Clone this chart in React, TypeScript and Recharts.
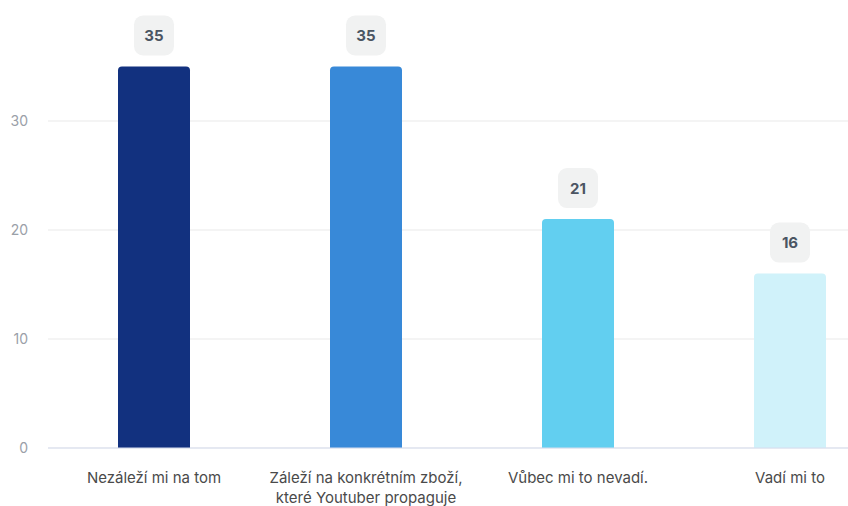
import React from 'react';
import { BarChart, Bar, XAxis, YAxis, CartesianGrid, Cell, LabelList } from 'recharts';

const categories = [
  'Nezáleží mi na tom',
  'Záleží na konkrétním zboží,\nkteré Youtuber propaguje',
  'Vůbec mi to nevadí.',
  'Vadí mi to',
];
const responses = [35, 35, 21, 16];
const yTicks = [0, 10, 20, 30];
const yMax = 40;

const barColors = ['#12317f', '#3889d8', '#62cff0', '#d0f2fa'];
const font = 'Inter, "Noto Sans", sans-serif';

const data = categories.map((name, i) => ({ name, value: responses[i] }));

const CategoryTick = (props: any) => {
  const { x, y, payload } = props;
  const lines = String(payload.value).split('\n');
  return (
    <text
      x={x}
      y={y}
      textAnchor="middle"
      style={{ fontFamily: font, fontSize: 15, fill: '#4a4a4a' }}
    >
      {lines.map((line, i) => (
        <tspan key={i} x={x} dy={i === 0 ? 0 : 20}>
          {line}
        </tspan>
      ))}
    </text>
  );
};

const ValueBadge = (props: any) => {
  const { x, y, width, value } = props;
  const cx = x + width / 2;
  return (
    <g>
      <rect x={cx - 20} y={y - 51} width={40} height={40} rx={9} fill="#f1f2f2" />
      <text
        x={cx}
        y={y - 31}
        textAnchor="middle"
        dominantBaseline="central"
        style={{ fontFamily: font, fontSize: 15, fontWeight: 700, fill: '#4b5563' }}
      >
        {value}
      </text>
    </g>
  );
};

// grid only at the labelled ticks, no line at the top of the plot
const gridRows = ({ yAxis, offset }: any) =>
  yTicks.map((t) => {
    const s = yAxis && yAxis.scale;
    if (typeof s === 'function') return s(t);
    if (s && typeof s.map === 'function') return s.map(t);
    return offset.top + offset.height * (1 - t / yMax);
  });

export default function App() {
  return (
    <div style={{ position: 'absolute', left: 0, top: 0, width: 848, height: 506, overflow: 'hidden', background: '#fff' }}>
      <BarChart
        width={896}
        height={506}
        data={data}
        margin={{ top: 12, right: 0, bottom: 0, left: 0 }}
      >
        <CartesianGrid vertical={false} stroke="#e9e9e9" horizontalCoordinatesGenerator={gridRows} />
        <XAxis
          dataKey="name"
          height={58}
          tickLine={false}
          tickSize={0}
          tickMargin={35}
          axisLine={{ stroke: '#d6ddef' }}
          interval={0}
          tick={<CategoryTick />}
        />
        <YAxis
          width={48}
          domain={[0, yMax]}
          ticks={yTicks}
          axisLine={false}
          tickLine={false}
          tickSize={0}
          tickMargin={20}
          tick={{ fontFamily: font, fontSize: 14, fill: '#9aa0a8' }}
        />
        <Bar dataKey="value" barSize={72} radius={[4, 4, 0, 0]} isAnimationActive={false}>
          {data.map((d, i) => (
            <Cell key={d.name} fill={barColors[i]} />
          ))}
          <LabelList dataKey="value" content={<ValueBadge />} />
        </Bar>
      </BarChart>
    </div>
  );
}
